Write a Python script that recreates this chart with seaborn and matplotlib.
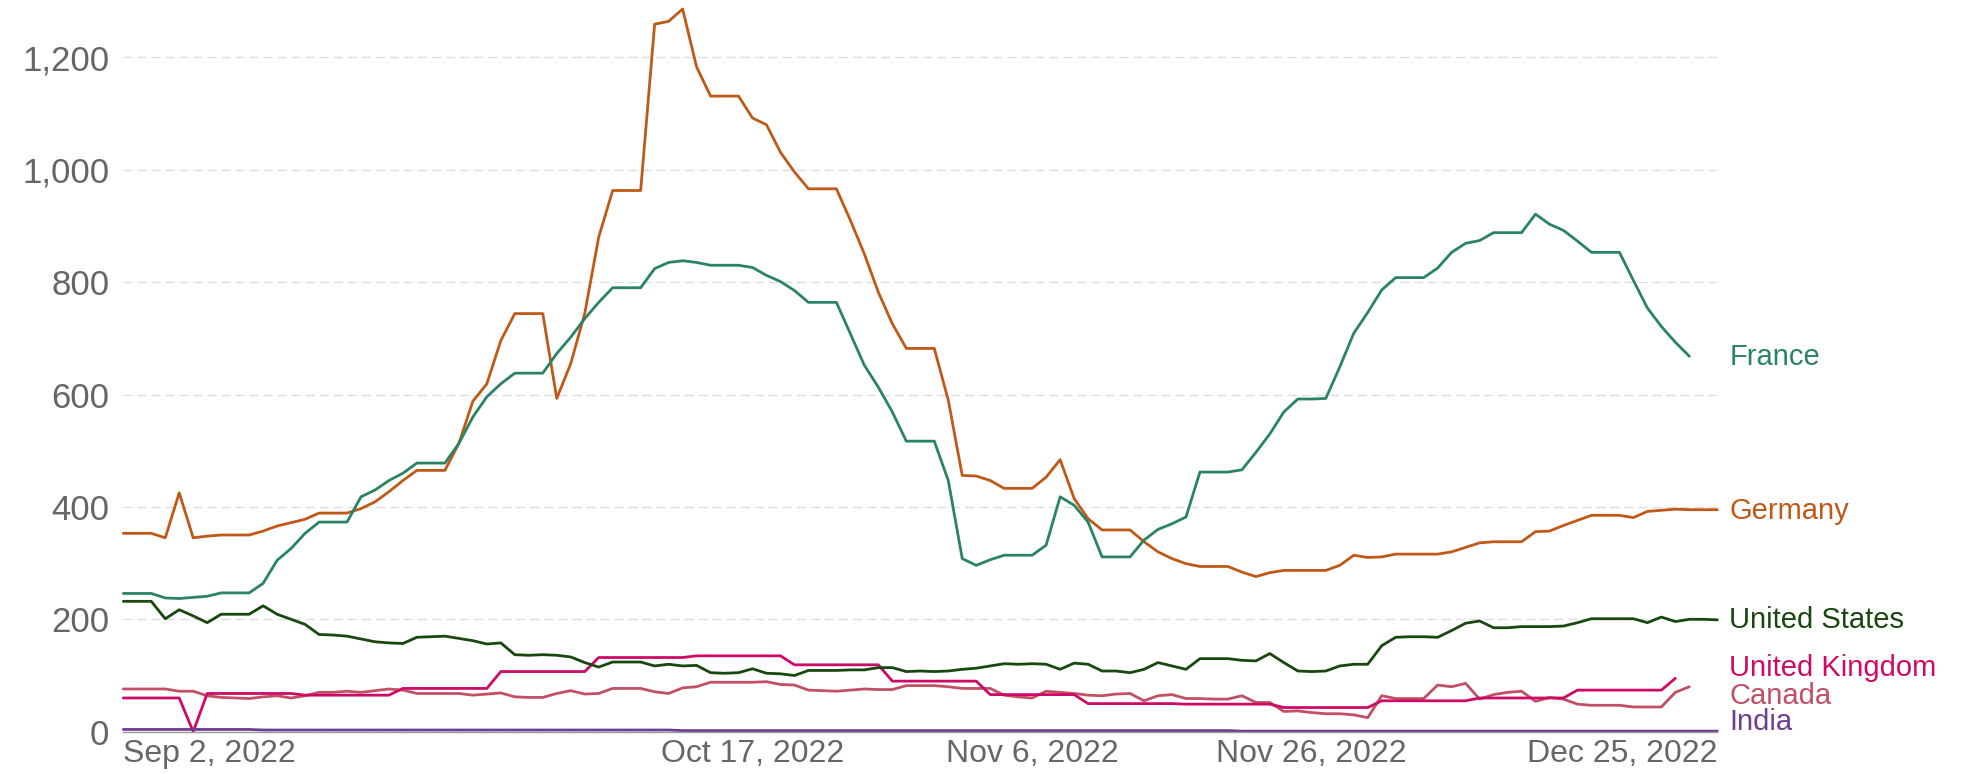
import matplotlib
matplotlib.use("Agg")
import matplotlib.pyplot as plt
import matplotlib.ticker as mticker
import seaborn as sns
import pandas as pd

start = "2022-09-02"

# daily values, one per day from Sep 2, 2022
france = [246, 246, 246, 238, 237, 239, 241, 247, 247, 247,
          264, 305, 326, 353, 373, 373, 373, 418, 430, 447,
          460, 478, 478, 478, 513, 560, 596, 619, 638, 638,
          638, 673, 702, 735, 764, 790, 790, 790, 824, 835,
          838, 835, 830, 830, 830, 826, 812, 801, 785, 764,
          764, 764, 708, 652, 613, 569, 517, 517, 517, 447,
          308, 296, 306, 314, 314, 314, 332, 418, 403, 373,
          311, 311, 311, 341, 360, 370, 382, 462, 462, 462,
          466, 497, 530, 569, 592, 592, 593, 649, 709, 746,
          786, 808, 808, 808, 825, 853, 869, 874, 888, 888,
          888, 921, 903, 892, 873, 853, 853, 853, 803, 754,
          721, 693, 668]

germany = [353, 353, 353, 345, 425, 345, 348, 350, 350, 350,
           357, 366, 372, 378, 389, 389, 389, 397, 409, 427,
           447, 465, 465, 465, 513, 588, 619, 696, 744, 744,
           744, 593, 655, 744, 880, 963, 963, 963, 1259, 1264,
           1286, 1183, 1131, 1131, 1131, 1092, 1080, 1031, 996, 966,
           966, 966, 910, 850, 782, 726, 682, 682, 682, 590,
           456, 455, 447, 433, 433, 433, 453, 484, 415, 379,
           359, 359, 359, 338, 320, 308, 299, 294, 294, 294,
           284, 276, 283, 287, 287, 287, 287, 296, 314, 310,
           311, 316, 316, 316, 316, 320, 328, 336, 338, 338,
           338, 356, 357, 367, 376, 385, 385, 385, 381, 392,
           394, 396, 395, 395, 395]

united_states = [232, 232, 232, 201, 217, 206, 194, 209, 209, 209,
                 224, 209, 200, 191, 173, 172, 170, 165, 160, 158,
                 157, 168, 169, 170, 166, 162, 156, 158, 137, 136,
                 137, 136, 133, 123, 115, 124, 124, 124, 117, 120,
                 117, 118, 105, 104, 105, 112, 104, 103, 100, 109,
                 109, 109, 110, 110, 114, 114, 107, 108, 107, 108,
                 111, 113, 117, 121, 120, 121, 120, 111, 122, 120,
                 108, 108, 105, 111, 123, 117, 111, 130, 130, 130,
                 127, 126, 139, 123, 108, 107, 108, 117, 120, 120,
                 153, 168, 169, 169, 168, 180, 193, 197, 185, 185,
                 187, 187, 187, 188, 194, 201, 201, 201, 201, 194,
                 204, 196, 200, 200, 199]

united_kingdom = [60, 60, 60, 60, 60, 0, 68, 68, 68, 68,
                  68, 68, 68, 65, 65, 65, 65, 65, 65, 65,
                  77, 77, 77, 77, 77, 77, 77, 107, 107, 107,
                  107, 107, 107, 107, 132, 132, 132, 132, 132, 132,
                  132, 135, 135, 135, 135, 135, 135, 135, 119, 119,
                  119, 119, 119, 119, 119, 90, 90, 90, 90, 90,
                  90, 90, 66, 66, 66, 66, 66, 66, 66, 50,
                  50, 50, 50, 50, 50, 50, 49, 49, 49, 49,
                  49, 49, 49, 43, 43, 43, 43, 43, 43, 43,
                  55, 55, 55, 55, 55, 55, 55, 60, 60, 60,
                  60, 60, 60, 60, 74, 74, 74, 74, 74, 74,
                  74, 95]

canada = [76, 76, 76, 76, 72, 72, 64, 61, 60, 59,
          62, 64, 60, 64, 70, 70, 72, 70, 73, 76,
          74, 68, 68, 68, 68, 65, 67, 69, 62, 61,
          61, 68, 73, 67, 68, 77, 77, 77, 71, 68,
          78, 80, 88, 88, 88, 88, 89, 84, 83, 74,
          73, 72, 74, 76, 75, 75, 82, 82, 82, 80,
          77, 77, 77, 65, 62, 60, 72, 70, 68, 65,
          64, 67, 68, 55, 64, 66, 59, 59, 58, 58,
          64, 52, 52, 36, 37, 34, 32, 32, 30, 25,
          64, 59, 59, 59, 83, 80, 86, 58, 66, 70,
          72, 54, 61, 58, 49, 47, 47, 47, 44, 44,
          44, 70, 80]

india = [4, 4, 4, 4, 4, 4, 4, 4, 4, 4,
         3, 3, 3, 3, 3, 3, 3, 3, 3, 3,
         3, 3, 3, 3, 3, 3, 3, 3, 3, 3,
         3, 3, 3, 3, 3, 3, 3, 3, 3, 3,
         2, 2, 2, 2, 2, 2, 2, 2, 2, 2,
         2, 2, 2, 2, 2, 2, 2, 2, 2, 2,
         2, 2, 2, 2, 2, 2, 2, 2, 2, 2,
         2, 2, 2, 2, 2, 2, 2, 2, 2, 2,
         1, 1, 1, 1, 1, 1, 1, 1, 1, 1,
         1, 1, 1, 1, 1, 1, 1, 1, 1, 1,
         1, 1, 1, 1, 1, 1, 1, 1, 1, 1,
         1, 1, 1, 1, 1]

countries = ["Canada", "United Kingdom", "United States", "Germany", "France", "India"]
series = {"France": france, "Germany": germany, "United States": united_states,
          "United Kingdom": united_kingdom, "Canada": canada, "India": india}
colors = {"France": "#2a8464", "Germany": "#c05917", "United States": "#18470f",
          "United Kingdom": "#cf0a66", "Canada": "#c15065", "India": "#6d3e91"}
label_y = {"France": 666, "Germany": 393, "United States": 199,
           "United Kingdom": 113, "Canada": 64, "India": 18}

tick_dates = pd.to_datetime(["2022-09-02", "2022-10-17", "2022-11-06", "2022-11-26", "2022-12-25"])
tick_labels = ["Sep 2, 2022", "Oct 17, 2022", "Nov 6, 2022", "Nov 26, 2022", "Dec 25, 2022"]

frames = []
for name in countries:
    vals = series[name]
    frames.append(pd.DataFrame({"date": pd.date_range(start, periods=len(vals), freq="D"),
                                "value": vals, "country": name}))
df = pd.concat(frames, ignore_index=True)

sns.set_style("white")
plt.rcParams["font.family"] = ["Liberation Sans", "DejaVu Sans"]

fig = plt.figure(figsize=(19.7, 7.74), dpi=100)
ax = fig.add_axes([123.3 / 1970, 42.3 / 774, 1594 / 1970, 731.7 / 774])

sns.lineplot(data=df, x="date", y="value", hue="country", hue_order=countries,
             palette=colors, lw=2.0, legend=False, estimator=None, errorbar=None, ax=ax)
for line in ax.lines:
    line.set_clip_on(False)

ax.set_xlim(tick_dates[0], tick_dates[-1])
ax.set_ylim(0, 1302)
ax.set_xlabel("")
ax.set_ylabel("")

ax.set_xticks(tick_dates)
ax.set_xticklabels(tick_labels)
xl = ax.get_xticklabels()
xl[0].set_ha("left")
xl[-1].set_ha("right")

ax.set_yticks([0, 200, 400, 600, 800, 1000, 1200])
ax.yaxis.set_major_formatter(mticker.FuncFormatter(lambda v, p: f"{v:,.0f}"))

ax.yaxis.grid(True, color="#dddddd", lw=1.0, linestyle=(0, (6.5, 3.6)))
ax.xaxis.grid(False)
for s in ["left", "top", "right"]:
    ax.spines[s].set_visible(False)
ax.spines["bottom"].set_color("#9a9a9a")
ax.spines["bottom"].set_linewidth(1.0)

ax.tick_params(axis="x", length=4.5, width=1, color="#9a9a9a", labelsize=23,
               labelcolor="#666666", pad=0.5)
ax.tick_params(axis="y", length=0, pad=10, labelsize=25, labelcolor="#666666")

for name, yv in label_y.items():
    ax.annotate(name, xy=(1, yv), xycoords=("axes fraction", "data"),
                xytext=(12, 0), textcoords="offset pixels", va="center", ha="left",
                color=colors[name], fontsize=21, annotation_clip=False)

fig.savefig("out.png", dpi=100)
